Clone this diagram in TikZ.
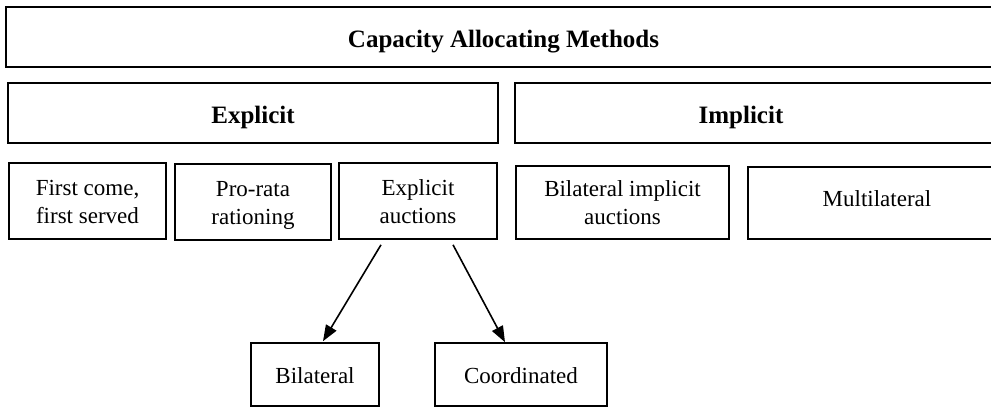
\documentclass[tikz,border=0pt]{standalone}
\usepackage{fontspec}
\setmainfont{Liberation Serif}
\usetikzlibrary{arrows.meta}
% struts that fix where the two lines of a box sit
\newcommand\upstrut{\rule{0pt}{21pt}}
\newcommand\downstrut{\rule[-5pt]{0pt}{5pt}}
\begin{document}
\begin{tikzpicture}[x=1pt,y=-1pt,
  box/.style={draw=black, rectangle, line width=1.6pt, inner sep=0pt,
    font=\fontsize{23}{28}\selectfont, align=center},
  onebox/.style={box, text height=22pt, text depth=5pt},
  headfont/.style={font=\fontsize{25}{30}\selectfont\bfseries, text height=25pt, text depth=5pt},
  headbox/.style={box, headfont},
  arr/.style={-{Triangle[length=16pt,width=12pt]}, line width=1.6pt}]
  \clip (0,0) rectangle (991,408);
  % top level
  \node[headbox, line width=2.2pt, minimum width=995pt, minimum height=60pt] (cam) at (503.5,37) {Capacity Allocating Methods};
  % two families
  \node[headbox, minimum width=490pt, minimum height=60pt] (expl) at (253,113) {Explicit};
  \node[box, minimum width=490pt, minimum height=60pt,
        label={[headfont, xshift=-19pt]center:Implicit}] (impl) at (760,113) {};
  % methods
  \node[box, minimum width=157pt, minimum height=76pt] (fcfs) at (87.5,201) {\upstrut First come,\\first served\downstrut};
  \node[box, minimum width=156pt, minimum height=76pt] (prorata) at (253,202) {\upstrut Pro-rata\\rationing\downstrut};
  \node[box, minimum width=158pt, minimum height=76pt] (expauc) at (418,201) {\upstrut Explicit\\auctions\downstrut};
  \node[box, minimum width=213pt, minimum height=73pt] (bilimp) at (622.5,202.5) {\upstrut Bilateral implicit\\auctions\downstrut};
  \node[box, minimum width=258pt, minimum height=72pt, text height=16pt, text depth=10pt] (multi) at (877,203) {Multilateral};
  % kinds of explicit auctions
  \node[onebox, minimum width=128pt, minimum height=63pt] (bilat) at (315,374.5) {Bilateral};
  \node[onebox, minimum width=172pt, minimum height=63pt] (coord) at (521,374.5) {Coordinated};
  \draw[arr] ([xshift=-37pt,yshift=-5pt]expauc.south) -- ([xshift=8pt,yshift=1pt]bilat.north);
  \draw[arr] ([xshift=35pt,yshift=-5pt]expauc.south) -- ([xshift=-16pt,yshift=0pt]coord.north);
\end{tikzpicture}
\end{document}
